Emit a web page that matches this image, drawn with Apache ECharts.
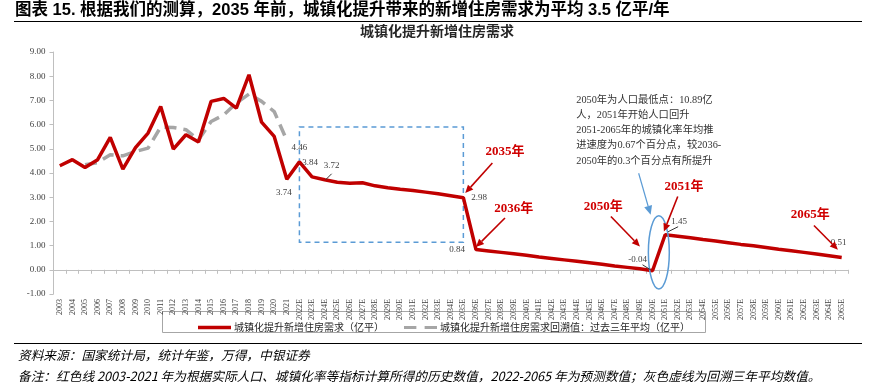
<!DOCTYPE html>
<html><head><meta charset="utf-8">
<script src="https://cdn.jsdelivr.net/npm/echarts@6/dist/echarts.min.js"></script>
<style>html,body{margin:0;padding:0;background:#fff}#c{width:875px;height:385px}</style>
</head><body><div id="c"></div>
<script>
// ---------- data ----------
const categories = ['2003','2004','2005','2006','2007','2008','2009','2010','2011','2012','2013','2014','2015','2016','2017','2018','2019','2020','2021',
 '2022E','2023E','2024E','2025E','2026E','2027E','2028E','2029E','2030E','2031E','2032E','2033E','2034E','2035E',
 '2036E','2037E','2038E','2039E','2040E','2041E','2042E','2043E','2044E','2045E','2046E','2047E','2048E','2049E','2050E',
 '2051E','2052E','2053E','2054E','2055E','2056E','2057E','2058E','2059E','2060E','2061E','2062E','2063E','2064E','2065E'];
const demand = [4.30,4.55,4.23,4.55,5.47,4.16,5.05,5.65,6.75,4.99,5.58,5.28,6.96,7.08,6.68,8.06,6.10,5.51,3.74,
 4.46,3.84,3.72,3.62,3.58,3.60,3.47,3.39,3.33,3.28,3.21,3.14,3.06,2.98,
 0.84,0.78,0.72,0.66,0.60,0.53,0.47,0.41,0.35,0.29,0.23,0.16,0.10,0.04,-0.04,
 1.45,1.39,1.32,1.25,1.19,1.12,1.05,0.99,0.92,0.85,0.79,0.72,0.65,0.58,0.51];
const backcastYears = ['2005','2006','2007','2008','2009','2010','2011','2012','2013','2014','2015','2016','2017','2018','2019','2020','2021'];
const backcastValues = [4.34,4.43,4.75,4.71,4.89,5.03,5.90,5.88,5.79,5.37,6.13,6.40,6.89,7.26,6.96,6.54,5.35];
const yTicks = [-1,0,1,2,3,4,5,6,7,8,9];
const seriesNames = ['城镇化提升新增住房需求（亿平）','城镇化提升新增住房需求回溯值：过去三年平均（亿平）'];
const labeledYears = ['2021','2022E','2023E','2024E','2035E','2036E','2050E','2051E','2065E'];
const highlightBox = {from:'2022E', to:'2035E', top:5.90, bottom:1.14};
const yearCallouts = [
  {text:'2035年', label:[35.3,4.89], from:[34.3,4.41], to:[32.15,3.17]},
  {text:'2036年', label:[36.0,2.52], from:[35.3,2.14], to:[33.0,0.94]},
  {text:'2050年', label:[43.1,2.59], from:[43.7,2.20], to:[46.0,0.96]},
  {text:'2051年', label:[49.5,3.44], from:[49.0,3.03], to:[47.9,1.58]},
  {text:'2065年', label:[59.5,2.27], from:[59.8,1.83], to:[61.7,0.83]}
];
const noteText = '2050年为人口最低点：10.89亿\n人，2051年开始人口回升\n2051-2065年的城镇化率年均推\n进速度为0.67个百分点，较2036-\n2050年的0.3个百分点有所提升';
const noteAnchor = [40.95, 7.34];
const noteArrow = {from:[45.9,3.99], to:[46.85,2.27]};
const ellipseSpec = {center:[47.5,0.72], rx:0.83, ry:1.51};

// ---------- build ----------
const labelPos = {
  '2021': {position:'bottom', offset:[-3,3]},
  '2022E': {position:'top', offset:[0,-4]},
  '2023E': {position:'top', offset:[-2,-4]},
  '2024E': {position:'top', offset:[7,-4]},
  '2035E': {position:'right', offset:[2,0]},
  '2036E': {position:'left', offset:[-5,0]},
  '2050E': {position:'top', offset:[-15,-1]},
  '2051E': {position:'top', offset:[14,-3]},
  '2065E': {position:'top', offset:[-3,-4]}
};
const redData = demand.map((v,i)=>{
  const c = categories[i];
  if (labeledYears.indexOf(c) >= 0) {
    const p = labelPos[c];
    return {value:v, label:{show:true, position:p.position, offset:p.offset, distance:6,
      formatter:()=>v.toFixed(2), fontSize:9, color:'#404040', fontFamily:'"Liberation Serif", serif'}};
  }
  return v;
});
const grayData = categories.map(c=>{const k=backcastYears.indexOf(c); return k>=0?backcastValues[k]:null;});

const serif = '"Liberation Serif", "Times New Roman", serif';
const chart = echarts.init(document.getElementById('c'), null, {renderer:'canvas'});
chart.setOption({
  animation:false,
  grid:{left:53.5, right:27, top:52, bottom:91},
  legend:{show:true, left:193, top:317.5, itemGap:20, itemWidth:33, itemHeight:3.5,
    textStyle:{fontSize:10, color:'#262626', fontFamily:'"Noto Sans CJK SC"', padding:[0,0,0,-2]},
    data:[
      {name:seriesNames[0], icon:'rect'},
      {name:seriesNames[1], icon:'path://M0,0h12v3h-12z M20,0h12v3h-12z'}
    ]},
  xAxis:{type:'category', data:categories, boundaryGap:true,
    axisLine:{onZero:true, lineStyle:{color:'#BFBFBF', width:1}},
    axisTick:{show:true, alignWithLabel:false, length:4, lineStyle:{color:'#BFBFBF'}},
    axisLabel:{interval:0, rotate:90, fontSize:8, color:'#404040', fontFamily:serif, margin:5}},
  yAxis:{type:'value', min:yTicks[0], max:yTicks[yTicks.length-1], interval:1,
    axisLine:{show:true, lineStyle:{color:'#BFBFBF'}},
    axisTick:{show:true, length:4, lineStyle:{color:'#BFBFBF'}},
    splitLine:{show:false},
    axisLabel:{formatter:v=>v.toFixed(2), fontSize:9, color:'#404040', fontFamily:serif, margin:8}},
  series:[
    {name:seriesNames[0], type:'line', data:redData, symbol:'circle', symbolSize:0, showSymbol:true, showAllSymbol:true, z:3,
      lineStyle:{color:'#C00000', width:3.5}, itemStyle:{color:'#C00000'},
      markArea:{silent:true, itemStyle:{color:'rgba(0,0,0,0)', borderColor:'#5B9BD5', borderWidth:1.5, borderType:[5,4]},
        data:[[{xAxis:highlightBox.from, yAxis:highlightBox.top},{xAxis:highlightBox.to, yAxis:highlightBox.bottom}]]}},
    {name:seriesNames[1], type:'line', data:grayData, symbol:'none', z:2, connectNulls:false,
      lineStyle:{color:'#A6A6A6', width:3.5, type:[12,7]}, itemStyle:{color:'#A6A6A6'}}
  ]
});

// helpers mapping data coordinates to pixels
const x0 = chart.convertToPixel({xAxisIndex:0}, categories[0]);
const x1 = chart.convertToPixel({xAxisIndex:0}, categories[1]);
const step = x1 - x0;
const px = (p)=>[x0 + p[0]*step, chart.convertToPixel({yAxisIndex:0}, p[1])];
const pointPx = (cat)=>{const i=categories.indexOf(cat); return px([i, demand[i]]);};

function arrow(a, b, color, lw, head){
  const dx=b[0]-a[0], dy=b[1]-a[1], len=Math.hypot(dx,dy), ux=dx/len, uy=dy/len;
  const bx=b[0]-ux*head, by=b[1]-uy*head, nx=-uy*head*0.45, ny=ux*head*0.45;
  return [
    {type:'line', silent:true, z:10, shape:{x1:a[0],y1:a[1],x2:bx,y2:by}, style:{stroke:color, lineWidth:lw}},
    {type:'polygon', silent:true, z:10, shape:{points:[[b[0],b[1]],[bx+nx,by+ny],[bx-nx,by-ny]]}, style:{fill:color}}
  ];
}
function txt(x,y,text,font,fill,align,valign,lh){
  const st = {text:text, font:font, fill:fill, align:align, verticalAlign:valign, textAlign:align, textVerticalAlign:valign};
  if (lh) st.lineHeight = lh;
  return {type:'text', silent:true, z:10, x:x, y:y, style:st};
}

const g = [];
// title, rules, subtitle, footnotes
g.push(txt(15, 10.5, '图表 15. 根据我们的测算，2035 年前，城镇化提升带来的新增住房需求为平均 3.5 亿平/年',
  'bold 16.5px "Liberation Sans", "Noto Sans CJK SC"', '#000', 'left', 'middle'));
g.push({type:'line', silent:true, shape:{x1:14,y1:21.5,x2:862,y2:21.5}, style:{stroke:'#000', lineWidth:1}});
g.push(txt(437, 31, '城镇化提升新增住房需求', 'bold 14px "Noto Sans CJK SC"', '#262626', 'center', 'middle'));
g.push({type:'line', silent:true, shape:{x1:14,y1:343.5,x2:862,y2:343.5}, style:{stroke:'#000', lineWidth:1}});
g.push(txt(18, 355, '资料来源：国家统计局，统计年鉴，万得，中银证券', 'italic 12.7px "Noto Sans CJK SC"', '#000', 'left', 'middle'));
g.push(txt(18, 376, '备注：红色线 2003-2021 年为根据实际人口、城镇化率等指标计算所得的历史数值，2022-2065 年为预测数值；灰色虚线为回溯三年平均数值。',
  'italic 12.7px "Noto Sans CJK SC"', '#000', 'left', 'middle'));
// legend box
g.push({type:'rect', silent:true, shape:{x:162.5,y:311.5,width:543,height:21}, style:{fill:'none', stroke:'#A6A6A6', lineWidth:1}});

// year callouts
yearCallouts.forEach(c=>{
  const l = px(c.label);
  g.push(txt(l[0], l[1], c.text, 'bold 13px "Liberation Serif", "Noto Sans CJK SC"', '#D00000', 'center', 'middle'));
  arrow(px(c.from), px(c.to), '#C00000', 1.6, 8).forEach(e=>g.push(e));
});
// note text + arrow + ellipse
const na = px(noteAnchor);
g.push(txt(na[0], na[1], noteText, '10.3px "Liberation Serif", "Noto Sans CJK SC"', '#333', 'left', 'top', 15.3));
arrow(px(noteArrow.from), px(noteArrow.to), '#5B9BD5', 1.2, 9).forEach(e=>g.push(e));
const ec = px(ellipseSpec.center);
const unitY = chart.convertToPixel({yAxisIndex:0},0) - chart.convertToPixel({yAxisIndex:0},1);
g.push({type:'ellipse', silent:true, z:9, shape:{cx:ec[0], cy:ec[1], rx:ellipseSpec.rx*step, ry:ellipseSpec.ry*unitY},
  style:{fill:'none', stroke:'#5B9BD5', lineWidth:1.5}});
// small leader lines for some data labels
[['2024E',[1,0],[7,-6]],['2050E',[-10,-6],[-2,-1]],['2051E',[3,-3],[13,-8]]].forEach(d=>{
  const p = pointPx(d[0]);
  g.push({type:'line', silent:true, z:10, shape:{x1:p[0]+d[1][0], y1:p[1]+d[1][1], x2:p[0]+d[2][0], y2:p[1]+d[2][1]}, style:{stroke:'#333', lineWidth:1}});
});
chart.setOption({graphic:g});
</script></body></html>
